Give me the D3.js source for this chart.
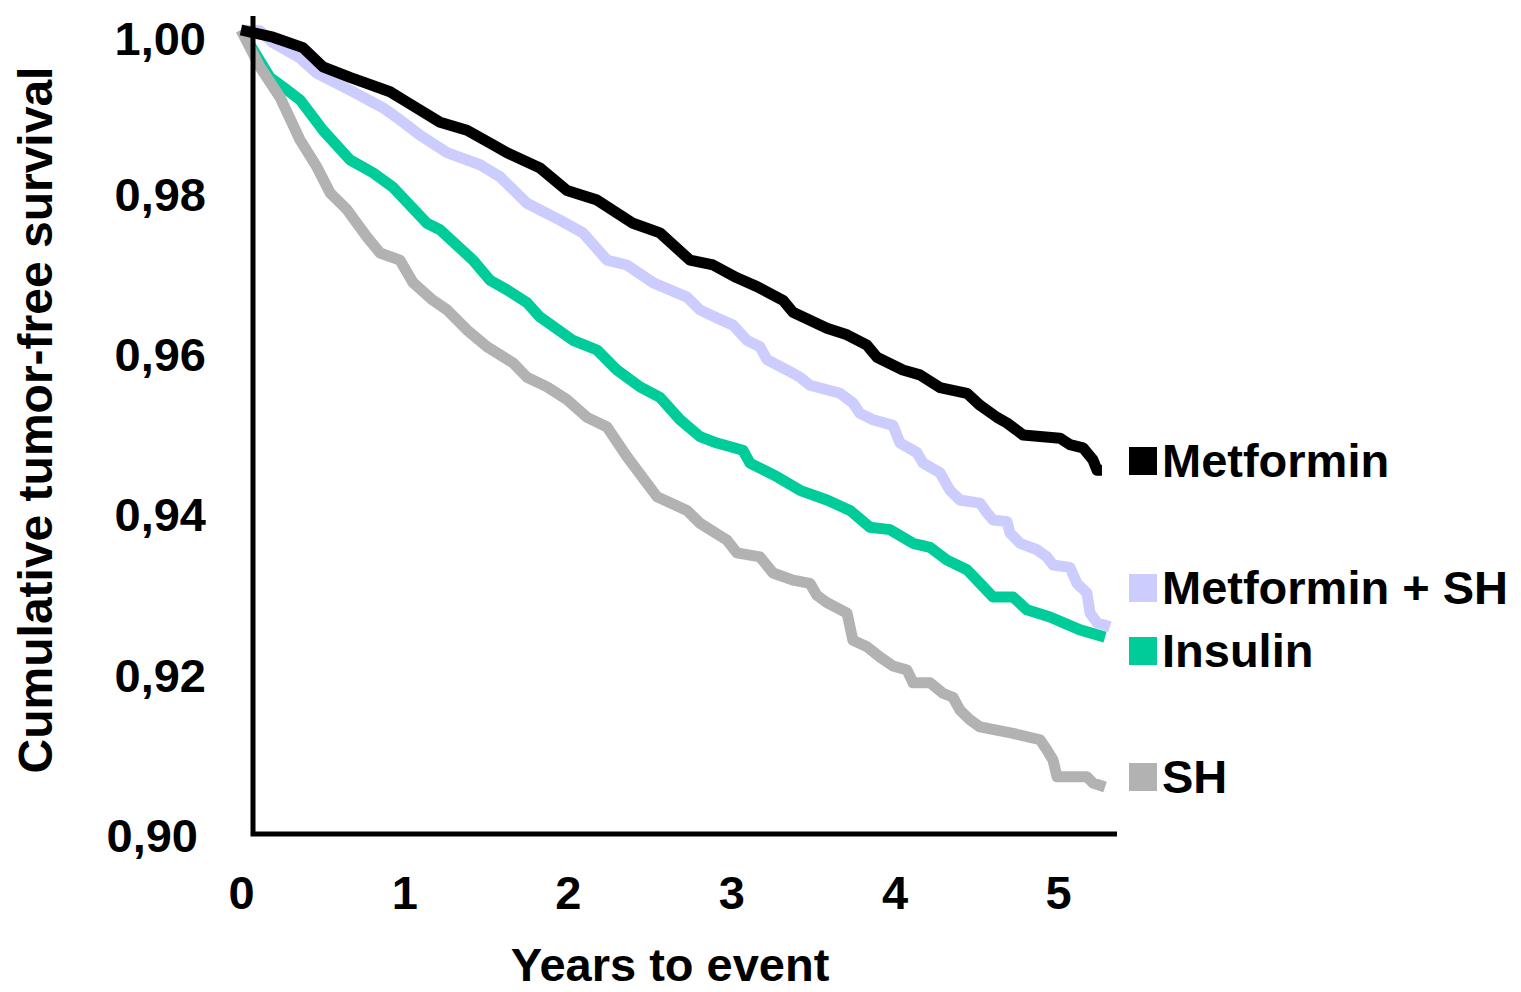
<!DOCTYPE html>
<html>
<head>
<meta charset="utf-8">
<script src="https://cdn.jsdelivr.net/npm/d3@7"></script>
<style>
  body { margin: 0; background: #fff; }
  svg text { font-family: "Liberation Sans", Arial, sans-serif; font-weight: bold; fill: #000; }
</style>
</head>
<body>
<div id="chart"></div>
<script>
// Kaplan-Meier style curves (years, survival)
var metforminYears = [0, 0.196, 0.379, 0.502, 0.667, 0.912, 1.016, 1.218, 1.383, 1.542, 1.628, 1.830, 1.995, 2.179, 2.399, 2.564, 2.748, 2.889, 3.035, 3.158, 3.317, 3.378, 3.586, 3.709, 3.831, 3.892, 4.051, 4.155, 4.278, 4.443, 4.523, 4.627, 4.688, 4.786, 5.012, 5.073, 5.153, 5.214, 5.239, 5.269];
var metforminSurv  = [1.0, 0.9991, 0.9978, 0.9954, 0.9941, 0.9923, 0.9910, 0.9885, 0.9875, 0.9857, 0.9847, 0.9828, 0.9800, 0.9788, 0.9759, 0.9747, 0.9713, 0.9707, 0.9691, 0.9680, 0.9663, 0.9648, 0.9628, 0.9620, 0.9607, 0.9592, 0.9576, 0.9570, 0.9554, 0.9547, 0.9532, 0.9517, 0.9510, 0.9495, 0.9491, 0.9483, 0.9479, 0.9464, 0.9451, 0.9451];

var metSHYears = [0, 0.116, 0.196, 0.361, 0.465, 0.667, 0.869, 0.973, 1.095, 1.261, 1.463, 1.585, 1.750, 1.952, 2.093, 2.240, 2.362, 2.521, 2.729, 2.809, 2.913, 3.011, 3.097, 3.176, 3.219, 3.342, 3.421, 3.482, 3.666, 3.745, 3.788, 3.868, 3.990, 4.033, 4.137, 4.174, 4.278, 4.339, 4.400, 4.523, 4.565, 4.602, 4.688, 4.706, 4.768, 4.871, 4.933, 4.969, 5.073, 5.116, 5.177, 5.196, 5.239, 5.318];
var metSHSurv  = [1.0, 0.9999, 0.9984, 0.9965, 0.9946, 0.9925, 0.9903, 0.9888, 0.9869, 0.9847, 0.9832, 0.9817, 0.9784, 0.9763, 0.9747, 0.9713, 0.9707, 0.9685, 0.9667, 0.9651, 0.9641, 0.9632, 0.9613, 0.9605, 0.9589, 0.9576, 0.9567, 0.9557, 0.9547, 0.9535, 0.9522, 0.9514, 0.9507, 0.9485, 0.9473, 0.9460, 0.9448, 0.9426, 0.9414, 0.9410, 0.9398, 0.9389, 0.9387, 0.9373, 0.9360, 0.9352, 0.9343, 0.9333, 0.9330, 0.9310, 0.9298, 0.9273, 0.9261, 0.9256];

var insulinYears = [0, 0.177, 0.257, 0.361, 0.502, 0.667, 0.808, 0.930, 1.138, 1.218, 1.420, 1.524, 1.628, 1.750, 1.830, 2.032, 2.179, 2.301, 2.442, 2.564, 2.687, 2.809, 2.913, 3.072, 3.115, 3.280, 3.421, 3.586, 3.727, 3.849, 3.972, 4.113, 4.217, 4.321, 4.443, 4.523, 4.602, 4.725, 4.810, 4.951, 5.031, 5.135, 5.288];
var insulinSurv  = [1.0, 0.9941, 0.9929, 0.9913, 0.9875, 0.9838, 0.9822, 0.9804, 0.9759, 0.9751, 0.9713, 0.9688, 0.9676, 0.9660, 0.9642, 0.9613, 0.9601, 0.9576, 0.9555, 0.9542, 0.9514, 0.9493, 0.9485, 0.9476, 0.9460, 0.9443, 0.9426, 0.9414, 0.9401, 0.9380, 0.9377, 0.9360, 0.9355, 0.9339, 0.9327, 0.9310, 0.9293, 0.9293, 0.9277, 0.9268, 0.9261, 0.9252, 0.9243];

var shYears = [0, 0.116, 0.239, 0.361, 0.465, 0.545, 0.649, 0.771, 0.851, 0.973, 1.053, 1.175, 1.261, 1.383, 1.506, 1.665, 1.750, 1.873, 1.995, 2.118, 2.240, 2.362, 2.546, 2.729, 2.809, 2.974, 3.035, 3.176, 3.256, 3.378, 3.482, 3.525, 3.586, 3.709, 3.745, 3.831, 3.911, 3.990, 4.076, 4.113, 4.217, 4.296, 4.357, 4.400, 4.461, 4.523, 4.725, 4.890, 4.933, 4.969, 4.994, 5.177, 5.214, 5.288];
var shSurv  = [1.0, 0.9954, 0.9916, 0.9863, 0.9829, 0.9797, 0.9776, 0.9742, 0.9722, 0.9713, 0.9685, 0.9663, 0.9651, 0.9626, 0.9605, 0.9585, 0.9567, 0.9555, 0.9539, 0.9517, 0.9505, 0.9468, 0.9418, 0.9401, 0.9385, 0.9364, 0.9348, 0.9343, 0.9323, 0.9314, 0.9310, 0.9295, 0.9286, 0.9273, 0.9239, 0.9231, 0.9218, 0.9207, 0.9202, 0.9186, 0.9186, 0.9173, 0.9168, 0.9152, 0.9140, 0.9131, 0.9123, 0.9115, 0.9102, 0.9090, 0.9069, 0.9069, 0.9061, 0.9056];

var seriesNames = ["Metformin", "Metformin + SH", "Insulin", "SH"];
var seriesColors = ["#000000", "#ccccff", "#00cc99", "#b2b2b2"];
var xTicks = [0, 1, 2, 3, 4, 5];
var yTicks = [0.90, 0.92, 0.94, 0.96, 0.98, 1.00];

var series = [
  { name: seriesNames[0], color: seriesColors[0], t: metforminYears, s: metforminSurv },
  { name: seriesNames[1], color: seriesColors[1], t: metSHYears, s: metSHSurv },
  { name: seriesNames[2], color: seriesColors[2], t: insulinYears, s: insulinSurv },
  { name: seriesNames[3], color: seriesColors[3], t: shYears, s: shSurv }
];

var width = 1521, height = 992;
var svg = d3.select("#chart").append("svg")
    .attr("width", width)
    .attr("height", height);

var x = d3.scaleLinear().domain([0, 5]).range([241, 1058]);
var y = d3.scaleLinear().domain([0.90, 1.00]).range([832, 30]);

var comma = d3.formatLocale({ decimal: ",", thousands: ".", grouping: [3], currency: ["", ""] });

// y tick labels
var yAxis = svg.append("g")
    .attr("transform", "translate(253,0)")
    .call(d3.axisLeft(y).tickValues(yTicks).tickSize(0).tickPadding(47).tickFormat(comma.format(".2f")));
yAxis.select(".domain").remove();
yAxis.selectAll("text")
    .attr("font-size", 47)
    .attr("dy", function(d) { return d === 1 ? "0.52em" : "0.42em"; })
    .attr("dx", function(d) { return d === 0.9 ? -8 : 0; })
    .style("font-family", "'Liberation Sans', Arial, sans-serif")
    .style("font-weight", "bold");

// x tick labels
var xAxis = svg.append("g")
    .attr("transform", "translate(0,834)")
    .call(d3.axisBottom(x).tickValues(xTicks).tickSize(0).tickPadding(42).tickFormat(d3.format("d")));
xAxis.select(".domain").remove();
xAxis.selectAll("text")
    .attr("font-size", 47)
    .attr("dy", "0.71em")
    .style("font-family", "'Liberation Sans', Arial, sans-serif")
    .style("font-weight", "bold");

// curves (draw order: insulin, met+SH, SH, metformin)
var line = d3.line()
    .x(function(d) { return x(d[0]); })
    .y(function(d) { return y(d[1]); });

var order = [2, 1, 3, 0];
svg.append("g").selectAll("path")
    .data(order.map(function(i) { return series[i]; }))
    .enter().append("path")
        .attr("d", function(d) { return line(d.t.map(function(t, i) { return [t, d.s[i]]; })); })
        .attr("fill", "none")
        .attr("stroke", function(d) { return d.color; })
        .attr("stroke-width", 11)
        .attr("stroke-linejoin", "round")
        .attr("stroke-linecap", "butt");

// axis lines
svg.append("path")
    .attr("d", "M253,16V834H1117")
    .attr("fill", "none")
    .attr("stroke", "#000")
    .attr("stroke-width", 5);

// axis titles
svg.append("text")
    .attr("transform", "translate(52,420) rotate(-90)")
    .attr("text-anchor", "middle")
    .attr("font-size", 48)
    .text("Cumulative tumor-free survival");

svg.append("text")
    .attr("x", 670)
    .attr("y", 981)
    .attr("text-anchor", "middle")
    .attr("font-size", 47)
    .text("Years to event");

// legend
var legendY = [461, 588, 651, 777];
var legend = svg.append("g").selectAll("g")
    .data(series)
    .enter().append("g")
        .attr("transform", function(d, i) { return "translate(1129," + legendY[i] + ")"; });
legend.append("rect")
    .attr("x", 0).attr("y", -14)
    .attr("width", 28).attr("height", 28)
    .attr("fill", function(d) { return d.color; });
legend.append("text")
    .attr("x", 33)
    .attr("y", 16)
    .attr("font-size", 47)
    .text(function(d) { return d.name; });
</script>
</body>
</html>
